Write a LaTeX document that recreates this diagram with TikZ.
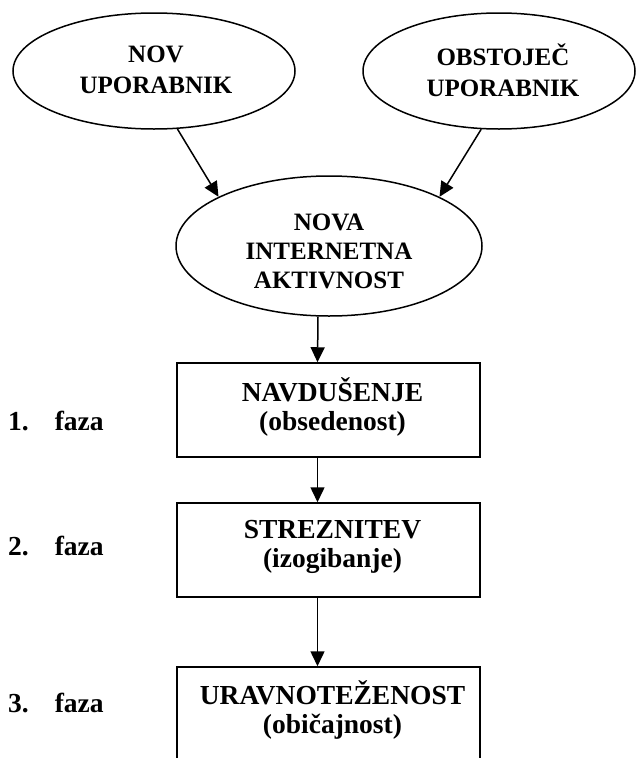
\documentclass[tikz,border=0pt]{standalone}
\usepackage{fontspec}
\setmainfont{Liberation Serif}
\usetikzlibrary{arrows.meta,shapes.geometric}
\begin{document}
\begin{tikzpicture}[x=1pt,y=-1pt,
  oval/.style={draw, ellipse, line width=1.5pt, inner sep=0pt},
  ovaltext/.style={align=center, inner sep=0pt, font=\bfseries\fontsize{25}{29}\selectfont},
  stagebox/.style={draw, rectangle, line width=1.5pt, minimum width=303pt, minimum height=94pt, inner sep=0pt},
  boxtext/.style={align=center, inner sep=0pt, font=\bfseries\fontsize{27.5}{29}\selectfont},
  arr/.style={line width=1.5pt, -{Triangle[length=15pt,width=14pt]}},
  faza/.style={anchor=base west, inner sep=0pt, font=\bfseries\fontsize{27.5}{30}\selectfont}]
\useasboundingbox (0,0) rectangle (636,758);
\clip (0,0) rectangle (636,758);
% ellipses
\node[oval, minimum width=282pt, minimum height=116pt] (nov) at (154,71) {};
\node[ovaltext] (novt) at (156,70) {NOV\\[2pt]UPORABNIK};
\node[oval, minimum width=272pt, minimum height=116pt] (obs) at (499,71) {};
\node[ovaltext] (obst) at (503,70) {OBSTOJEČ\\[2pt]UPORABNIK};
\node[oval, minimum width=306pt, minimum height=140pt] (act) at (329,246) {};
\node[ovaltext] (actt) at (329,251) {NOVA\\INTERNETNA\\AKTIVNOST};
% boxes
\node[stagebox] (b1) at (328.5,410) {};
\node[boxtext] (b1t) at (332.5,407) {NAVDUŠENJE\\(obsedenost)};
\node[stagebox] (b2) at (328.5,550) {};
\node[boxtext] (b2t) at (332.5,547) {STREZNITEV\\(izogibanje)};
\node[stagebox] (b3) at (328.5,714) {};
\node[boxtext] (b3t) at (332.5,710) {URAVNOTEŽENOST\\(običajnost)};
% phase labels
\node[faza] (f1) at (8,430) {1.\hspace{26pt}faza};
\node[faza] (f2) at (8,555) {2.\hspace{26pt}faza};
\node[faza] (f3) at (8,712) {3.\hspace{26pt}faza};
% connectors
\draw[arr] (nov.-68) -- (act.156);
\draw[arr] (obs.-107) -- (act.24);
\draw[arr] ([xshift=-11pt]act.south) -- ([xshift=-11pt]b1.north);
\draw[arr] ([xshift=-11pt]b1.south) -- ([xshift=-11pt]b2.north);
\draw[arr] ([xshift=-11pt]b2.south) -- ([xshift=-11pt]b3.north);
\end{tikzpicture}
\end{document}
